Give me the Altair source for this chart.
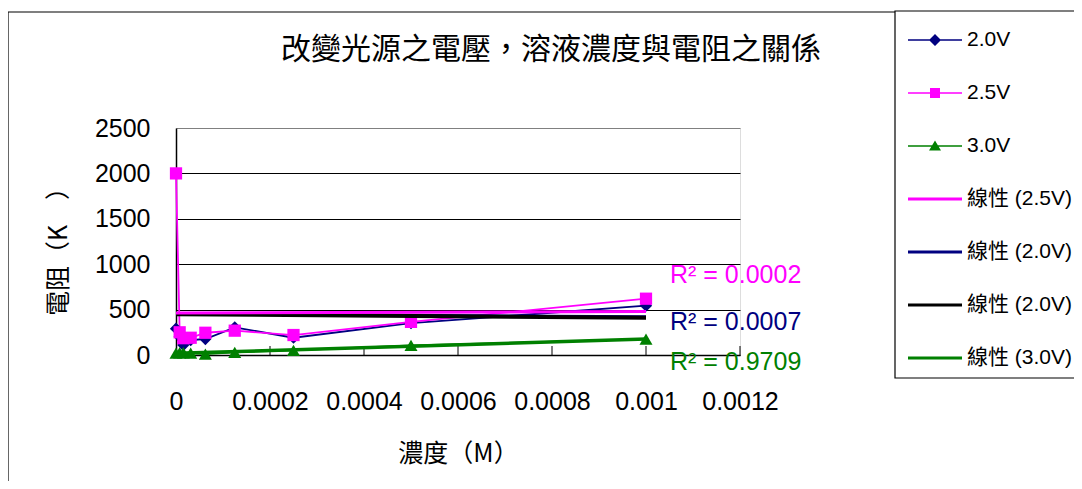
import altair as alt
import pandas as pd

# ---------------- data ----------------
conc = [0, 0.0000078, 0.0000156, 0.00003125, 0.0000625, 0.000125, 0.00025, 0.0005, 0.001]
r_20 = [290, 200, 110, 165, 176, 305, 190, 350, 543]
r_25 = [2000, 250, 185, 190, 245, 268, 220, 365, 620]
r_30 = [20, 25, 25, 20, 10, 30, 50, 105, 175]

series_names = ["2.0V", "2.5V", "3.0V"]
trend_names = ["線性 (2.5V)", "線性 (2.0V)", "線性 (2.0V) ", "線性 (3.0V)"]
trend_x = [0, 0.001]
trend_25 = [462, 478]
trend_20a = [455, 420]
trend_20b = [450, 410]
trend_30 = [18, 175]

chart_title = "改變光源之電壓，溶液濃度與電阻之關係"
r2_texts = ["R² = 0.0002", "R² = 0.0007", "R² = 0.9709"]
x_ticks = [0, 0.0002, 0.0004, 0.0006, 0.0008, 0.001, 0.0012]
y_ticks = [0, 500, 1000, 1500, 2000, 2500]

legend_keys = series_names + trend_names
legend_labels = ["2.0V", "2.5V", "3.0V", "線性 (2.5V)", "線性 (2.0V)", "線性 (2.0V)", "線性 (3.0V)"]
legend_colors = ["#000080", "#FF00FF", "#008000", "#FF00FF", "#000080", "#000000", "#008000"]
LINE_THIN = "M-2.7,-0.08H2.7V0.08H-2.7Z"
LINE_THICK = "M-2.7,-0.16H2.7V0.16H-2.7Z"
legend_paths = [
    LINE_THIN + " M0,-0.6L0.6,0L0,0.6L-0.6,0Z",
    LINE_THIN + " M-0.5,-0.5H0.5V0.5H-0.5Z",
    LINE_THIN + " M0,-0.55L0.6,0.45H-0.6Z",
    LINE_THICK, LINE_THICK, LINE_THICK, LINE_THICK,
]

LAT = "Liberation Sans, Noto Sans CJK TC, sans-serif"
CJK = "Noto Sans CJK TC, sans-serif"

# ---------------- tables ----------------
rows = []
for name, vals in zip(series_names, [r_20, r_25, r_30]):
    for i, (c, v) in enumerate(zip(conc, vals)):
        rows.append({"conc": c, "value": v, "series": name, "idx": i})
data_df = pd.DataFrame(rows)

trows = []
for name, vals in zip(trend_names, [trend_25, trend_20a, trend_20b, trend_30]):
    for c, v in zip(trend_x, vals):
        trows.append({"conc": c, "value": v, "series": name})
trend_df = pd.DataFrame(trows)

r2_df = pd.DataFrame({
    "conc": [trend_x[1]] * 3,
    "value": [trend_25[1], trend_20a[1], trend_30[1]],
    "text": r2_texts,
})
tick_df = pd.DataFrame({"conc": x_ticks[1:]})
frame_df = pd.DataFrame({"frame": ["box"]})
legend_df = pd.DataFrame({"series": legend_keys, "label": legend_labels, "row": list(range(len(legend_keys)))})
title_df = pd.DataFrame({"text": [chart_title]})

# ---------------- encodings ----------------
x_enc = alt.X(
    "conc:Q",
    scale=alt.Scale(domain=[0, 0.0012], nice=False, zero=False),
    axis=alt.Axis(
        values=x_ticks, format=".4~f", labelFont=LAT, labelFontSize=25,
        labelColor="black", labelPadding=34, ticks=False, domainColor="black",
        domainWidth=1.5, grid=False, labelFlush=False, labelOverlap=False,
        title="濃度（M）", titleFont=CJK, titleFontSize=25, titleFontWeight="normal",
        titleColor="black", titleY=98, titleBaseline="middle",
    ),
)
y_enc = alt.Y(
    "value:Q",
    scale=alt.Scale(domain=[0, 2500], nice=False),
    axis=alt.Axis(
        values=y_ticks, format="d", labelFont=LAT, labelFontSize=25, labelColor="black",
        labelPadding=26, ticks=False, domainColor="black", domainWidth=1.5,
        grid=True, gridWidth=1,
        gridColor={"condition": {"test": "datum.value === 2500", "value": "#808080"}, "value": "#000000"},
        title="電阻（K　）", titleFont=CJK, titleFontSize=25, titleFontWeight="normal",
        titleColor="black", titleX=-118, titleY=117, titleAlign="center",
        titleBaseline="middle", titleAngle=270,
    ),
)
color_scale = alt.Scale(domain=legend_keys, range=legend_colors)
col_nolegend = alt.Color("series:N", scale=color_scale, legend=None)

# ---------------- layers ----------------
outer_frame = alt.Chart(frame_df).mark_rect(
    fill="white", fillOpacity=0, stroke="black", strokeWidth=1.2, clip=False
).encode(x=alt.value(-168), x2=alt.value(1000), y=alt.value(-116), y2=alt.value(500))

legend_frame = alt.Chart(frame_df).mark_rect(
    fill="white", stroke="black", strokeWidth=1.2, clip=False
).encode(x=alt.value(719), x2=alt.value(1000), y=alt.value(-117), y2=alt.value(250))

title_text = alt.Chart(title_df).mark_text(
    font=CJK, fontSize=30, color="black", align="center", baseline="middle", clip=False
).encode(x=alt.value(375), y=alt.value(-78), text="text:N")

inner_ticks = alt.Chart(tick_df).mark_rule(color="black", strokeWidth=1).encode(
    x=x_enc, y=alt.value(227), y2=alt.value(218)
)

data_lines = alt.Chart(data_df).mark_line(strokeWidth=1.8).encode(
    x=x_enc, y=y_enc, color=col_nolegend, order="idx:Q"
)

def pts(name, shape, size):
    return alt.Chart(data_df).transform_filter(
        alt.datum.series == name
    ).mark_point(shape=shape, filled=True, size=size, opacity=1).encode(
        x=x_enc, y=y_enc, color=col_nolegend
    )

points = [pts("2.0V", "diamond", 150), pts("2.5V", "square", 150), pts("3.0V", "triangle-up", 170)]

def trend(name, width):
    return alt.Chart(trend_df).transform_filter(
        alt.datum.series == name
    ).mark_line(strokeWidth=width).encode(x=x_enc, y=y_enc, color=col_nolegend)

trends = [trend("線性 (2.0V)", 3), trend("線性 (2.0V) ", 4), trend("線性 (2.5V)", 3), trend("線性 (3.0V)", 3.5)]

def r2(i, color, dy):
    return alt.Chart(r2_df.iloc[[i]]).mark_text(
        font=LAT, fontSize=25, color=color, align="left", baseline="alphabetic",
        dx=24, dy=dy, clip=False
    ).encode(x=x_enc, y=y_enc, text="text:N")

r2_layers = [r2(0, "#FF00FF", -29), r2(1, "#000080", 13), r2(2, "#008000", 31)]

# manual legend (inside its own framed box)
leg_base = alt.Chart(legend_df).transform_calculate(ypix="-88 + datum.row * 53")
legend_symbols = leg_base.mark_point(filled=True, size=400, opacity=1, strokeWidth=0, clip=False).encode(
    x=alt.value(759),
    y=alt.Y("ypix:Q", scale=None),
    color=col_nolegend,
    shape=alt.Shape("series:N", scale=alt.Scale(domain=legend_keys, range=legend_paths), legend=None),
)
legend_labels_layer = leg_base.mark_text(
    font=LAT, fontSize=21, color="black", align="left", baseline="middle", clip=False
).encode(x=alt.value(791), y=alt.Y("ypix:Q", scale=None), text="label:N")

chart = alt.layer(
    outer_frame, legend_frame, title_text, inner_ticks, data_lines, *points, *trends,
    *r2_layers, legend_symbols, legend_labels_layer
).properties(
    width=564, height=227,
    padding={"left": 168, "top": 120, "right": 334, "bottom": 126},
    autosize="none",
).configure_view(stroke="#808080", strokeWidth=2).configure(background="white")

chart.save("out.html", embed_options={"renderer": "svg", "actions": False})
